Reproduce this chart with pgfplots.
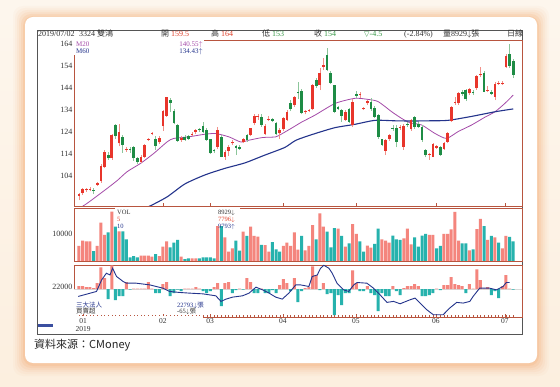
\documentclass[border=0pt]{standalone}
\usepackage{pgfplots}
\pgfplotsset{compat=1.18}
\usepackage{pgfplotstable}
\usepackage{fontspec}
\setmainfont{Liberation Serif}
\newfontfamily\cjk{Noto Sans CJK TC}
\newfontfamily\dejavu{DejaVu Sans}
\definecolor{upred}{HTML}{E8352B}
\definecolor{upwick}{HTML}{F29088}
\definecolor{dngreen}{HTML}{1E8C45}
\definecolor{dnwick}{HTML}{8CC69A}
\definecolor{volsal}{HTML}{F4857D}
\definecolor{volteal}{HTML}{26B2AD}
\definecolor{m20c}{HTML}{A44AA8}
\definecolor{m60c}{HTML}{24348C}
\definecolor{panelc}{HTML}{B8553F}
\definecolor{framec}{HTML}{555555}
\definecolor{hred}{HTML}{E0402A}
\definecolor{hgreen}{HTML}{3A9A4A}
\definecolor{txt}{HTML}{333333}
\definecolor{glow}{HTML}{F59A55}
\definecolor{cream}{HTML}{FCEFDF}
\definecolor{boxc}{HTML}{3B4FA0}

\pgfplotstableread{
i o h l c
0 95 96.5 93 95.8
1 96.4 98.5 95.5 97.9
2 97.5 98.8 96.8 98
3 97.6 99 97 98.3
5 100 101.5 99.5 100.8
6 101.7 109.5 101 108.5
7 108 116 107.5 115
9 112 123 111.5 122.6
11 118.8 127.5 117.5 124
13 115.8 117 115 116
17 110.5 113.5 110 112.8
18 112.8 118.5 112 118
19 120.5 121.5 120 120.8
20 123.2 124 122.5 123.7
22 119.3 122 118.5 121.4
23 126.7 134 124.5 133.5
24 131.3 140 131 139.8
28 120.2 122 119.5 121.5
31 122.5 124 122 123.2
32 124 125.5 123 124.8
38 117.3 126.5 116.5 125
40 112.8 116 111.5 115
41 115.5 118 113 117.3
42 118.8 120.5 118 119.3
45 119.5 121.5 119 121
47 122.6 126 122 125.7
48 128 132 127 131.3
49 130.7 132 129.5 131.2
51 123 127.5 122.5 126.7
52 129.5 131.5 129 129.8
55 123.5 126 121 125
56 125.2 131 124.5 130.2
57 129.5 134 129 133.3
59 136.3 140.5 135.5 139.8
62 133 134 132 133.3
63 133.5 134.5 133 133.8
64 134.3 146 133.8 145.4
66 145.4 153 143 151
67 153.6 157.5 152 154.3
73 129.5 134 129 133.2
75 127.2 139 126.5 137.8
77 140.8 142 139.5 141
78 134.3 135.5 134 135
79 137 138.5 136.5 138
84 115.4 121 113.5 120.4
85 120.8 123 120 122.6
88 125.8 127 125 126
89 117.3 127.5 116 126.7
91 125.2 130 124.5 129.5
96 113.8 114.5 111.5 114
97 112.8 119 112.5 118.4
98 116.8 118 116.5 117.5
100 116.5 119.5 116 118.8
101 119.6 124 119 123.4
102 129 136 128.5 135.5
103 137.2 140 136.5 137.8
104 137 142 136.5 141.6
107 141.6 144 141 143.4
109 143.8 150 143.3 149.5
110 149.8 153.5 149 150.3
112 142.6 145 142 142.8
114 139.8 146.5 138.5 146
115 145.8 147 145.5 146.3
116 145.8 147 145.5 146.3
117 153.4 159.5 153 158.5
}\upc

\pgfplotstableread{
i o h l c
4 97.6 98.5 96 97.2
8 113.7 115 111.5 112
10 127 127.5 121 122
12 121.6 122.5 114.5 118
14 116 117 114.5 115.8
15 117 117.5 111 112
16 112 112.5 109.5 110.3
21 120.7 122 116 117.6
25 138.5 139.5 133 137.3
26 133.7 134.5 127.5 128
27 127.2 127.5 119.5 120
29 121.8 122.5 120 120.5
30 122 122.5 120.5 121
33 125.2 126 124 124.8
34 126.7 128.5 123.5 124
35 125 126 120 120.4
36 120.7 121 114 114.3
37 115.8 116.5 114.5 115.2
39 121.8 122.5 112.5 112.8
43 117.5 118 113.5 116.8
44 117.3 118 116 116.5
46 122.6 123 119.5 120.4
50 131 132 126.5 127.2
53 129.8 130.5 128.5 129
54 128.2 128.5 122.5 123
58 137 138.5 133.5 134.3
60 142.2 146.5 139 141.6
61 142.8 143.5 132 132.8
65 147.6 148.5 144 144.9
68 159 162 151.5 152.2
69 150.7 151.5 146 146.4
70 145.4 145.5 132.5 133.2
71 135.2 136 134 134.6
72 134 134.5 128.5 131.5
74 134.3 135 128 128.7
76 141.2 142.5 139.5 140.5
80 137.8 139.5 133.5 134.3
81 135 136 130.5 131
82 131.7 132 121 121.8
83 120.7 121 117.5 118
86 125.8 127 124.5 125.4
87 125.7 127 117 119.6
90 127.8 128.5 126.5 127.2
92 130.7 131.5 125.5 126.4
93 127.5 128.5 126 126.5
94 126.4 127 119.5 120.4
95 116 116.5 112.5 113.5
99 117 117.5 113 113.5
105 142.3 143 140.5 141.3
106 143 143.5 138 138.8
108 142.3 143 141 141.6
111 150.7 151.5 142 142.3
113 142.4 143 141 141.5
118 159.5 164 153 154
119 156.4 157 148.5 150
}\dnc

\pgfplotstableread{
i v
0 89.2
2.3 91.7
5 95
7.8 98.5
10.5 102
13.2 106
16.9 109.8
20.5 114.3
24.2 119.6
26 121.1
30 121.8
34.5 123
37.5 123.3
41.1 121.8
44.3 119.5
46.6 120.3
50.3 121.5
53.9 121.8
55.7 123.3
58.5 126
61 128.5
64.7 131.7
70.2 137
75.6 139.3
79.3 138.8
82 137.8
85.7 133.2
88.4 130.2
90.7 128.2
93.9 127.2
97.5 123.4
100.7 121.1
103.9 124.2
107.6 127.2
111.2 130.7
114 133.2
116.7 137
119 140.8
}\mtwenty

\pgfplotstableread{
i v
18 89.5
19.6 90.5
24.2 94.6
29 100.4
34.5 104.5
40 107.5
45.5 110
50.9 113.5
56.4 117
59.5 120.3
64.7 123.3
70.2 126
75.6 127.5
81.1 129.3
86.6 129.1
91 129
96 129.1
101.1 129.3
107.6 131.1
114 133.2
119 134.5
}\msixty

\pgfplotstableread{
i v
0 5556
1 7530
2 7280
3 7280
5 5556
6 14200
7 9630
9 18270
11 11000
17 2000
18 2000
19 2000
20 1600
22 1850
23 5300
24 7280
28 1600
31 1000
32 1000
38 12960
40 8770
41 3460
42 4690
45 10860
47 12710
48 9260
49 9000
51 5900
52 3500
56 5600
57 6800
58 5556
59 10600
60 4200
62 3950
63 5556
64 13330
66 17650
67 12710
71 11980
73 5310
75 13700
76 10000
79 5680
80 4940
83 8030
84 7530
85 6790
89 8400
90 11980
91 6170
96 9630
97 9630
100 10000
101 10000
102 11730
103 18150
104 7530
107 3950
109 11850
110 15560
112 7780
114 8770
116 4690
117 9260
}\volup

\pgfplotstableread{
i v
4 3700
8 10600
10 12700
12 11000
13 8030
14 1360
15 1850
16 1360
21 2590
25 5060
26 6790
27 7780
29 740
30 1000
33 1000
34 1360
35 1360
36 1360
37 1000
39 12960
43 7530
44 3830
46 9260
50 6000
53 7000
54 4300
55 3500
61 9260
65 8030
68 10860
69 5060
70 12220
72 9260
74 6540
77 7280
78 3460
81 6300
82 11980
86 9380
87 8030
88 7780
92 8770
93 5310
94 9380
95 10000
98 4690
99 5560
105 6540
106 6540
108 4320
111 12960
113 9260
115 6790
118 8929
119 7280
}\voldn

\pgfplotstableread{
i v
0 3
1 3
2 2
3 2
4 1
5 6
6 22
7 11
9 24
13 7
15 0.5
16 0.5
17 0.5
18 0.5
19 7
20 0.5
23 5
24 7
29 0.5
30 0.5
31 0.5
32 2
33 0.5
37 2
38 6
40 6
41 7
44 0.5
46 11
47 7
50 0.5
55 4
56 10
57 6
59 11
62 1
63 2
64 23
65 14
67 6
75 19
76 6
79 3
86 3
89 1
90 3
91 3
92 5
93 3
98 0.5
100 4
101 4
102 12
103 5
104 4
105 3
107 5
108 0.5
109 20
110 9
111 0.5
112 2
116 3
117 14
118 0.5
}\instup

\pgfplotstableread{
i v
8 -10
10 -11
11 -7
12 -7
14 -0.5
21 -4
22 -4
25 -7
26 -4
27 -0.5
28 -2
34 -2
35 -4
36 -2
39 -17
42 -4
43 -1
45 -0.5
48 -4
49 -4
51 -4
52 -4
53 -1
54 -4
58 -2
60 -13
61 -2
66 -1
68 -5
69 -4
70 -26
71 -6
72 -16
73 -4
74 -4
77 -2
78 -2
80 -4
81 -6
82 -22
83 -4
84 -7
85 -7
87 -2
88 -6
94 -7
95 -7
96 -6
97 -4
99 -1
106 -4
113 -6
114 -2
115 -9
119 -0.5
}\instdn

\pgfplotstableread{
i v
-0.2 -7.3
4.8 -2.3
6.2 9.3
7.5 16
8.5 14.3
9.2 21
10.3 12.7
12.1 7.7
13 6
15.7 6
19.4 4.3
23 1
24.8 -2.3
27.5 -3.3
30.3 -4
33.9 -4.7
37.5 -6.7
38.9 -12.3
40.3 -10
42.1 -8
44.8 -6.7
46.6 -4
48.5 2
50.3 -0.7
52.1 -4
53.9 -8
55.7 -10
57.5 -4
59.4 4.3
60.7 4.3
63 2.7
63.9 12.7
65.3 14.3
66.2 21
67.1 24
68.5 21
69.4 16
70.7 6
72.5 -0.7
73.9 -2.3
75.3 4.3
76.2 6.7
78.9 6
80.7 1
82.5 -5.7
84.4 -13.3
86.2 -12.3
88 -14.7
90.7 -10.7
92.1 -9
93.5 -14
95.3 -20.7
97.1 -25.7
99.8 -25.7
101.6 -19
103.5 -13.3
105.3 -14
107.1 -12.3
108 -7.3
109.8 1
112.5 1
114.4 -0.7
116.2 2.7
117.1 6.7
118 6.7
}\instline

\pgfplotsset{
  panel/.style={
    scale only axis, width=448pt, xmin=-1.37, xmax=121.4,
    axis line style={draw=panelc, line width=0.7pt},
    tick pos=left,
    ytick style={draw=none},
    yticklabel style={font=\fontsize{8}{9}\selectfont, text=txt, inner sep=1.5pt},
    /pgf/number format/assume math mode=true,
    /pgf/number format/1000 sep={},
    scaled y ticks=false,
  },
  candle/.style 2 args={draw=none, mark=none, forget plot,
    error bars/y dir=plus, error bars/y explicit, error bars/error mark=none,
    error bars/error bar style={draw=#1, line width=#2}},
}

\begin{document}
\begin{tikzpicture}[x=1pt,y=1pt]
\useasboundingbox (0,0) rectangle (560,386);
\shade[top color=cream!55!white, bottom color=cream] (0,0) rectangle (560,386);
\foreach \d/\op in {12/0.04, 10/0.05, 8/0.07, 6/0.09, 4/0.12, 2/0.16}
  \fill[glow, opacity=\op, rounded corners=10pt] ({25-\d},{23-\d-1}) rectangle ({537+\d},{369+\d-1});
\fill[white, rounded corners=8pt] (25,23) rectangle (537,369);
\draw[framec, line width=0.8pt] (37,52) rectangle (522,356);

% price panel
\begin{axis}[panel, at={(74pt,180pt)}, anchor=south west, height=166pt,
  ymin=90.4, ymax=165.8, ytick={104,114,124,134,144,154,164},
  xtick={23,35.9,55.9,75.9,97.8,116.7}, xticklabels={},
  xtick style={draw=panelc, line width=0.6pt}, major tick length=3pt]
\addplot[m20c, line width=0.8pt, smooth, tension=0.4] table[x=i,y=v]{\mtwenty};
\addplot[m60c, line width=1.1pt, smooth, tension=0.4] table[x=i,y=v]{\msixty};
\addplot[candle={upwick}{0.6pt}]
  table[x=i, y=l, y error plus expr=\thisrow{h}-\thisrow{l}] {\upc};
\addplot[candle={dnwick}{0.6pt}]
  table[x=i, y=l, y error plus expr=\thisrow{h}-\thisrow{l}] {\dnc};
\addplot[candle={upred}{2.7pt}]
  table[x=i, y=o, y error plus expr={max(\thisrow{c}-\thisrow{o},0.35)}] {\upc};
\addplot[candle={dngreen}{2.7pt}]
  table[x=i, y=c, y error plus expr={max(\thisrow{o}-\thisrow{c},0.35)}] {\dnc};
\end{axis}

% volume panel
\begin{axis}[panel, at={(74pt,125pt)}, anchor=south west, height=53pt,
  ymin=0, ymax=19630, ytick={10000}, xtick=\empty]
\addplot[ybar, bar width=3pt, bar shift=0pt, fill=volsal, draw=none] table[x=i,y=v]{\volup};
\addplot[ybar, bar width=3pt, bar shift=0pt, fill=volteal, draw=none] table[x=i,y=v]{\voldn};
\end{axis}

% institutional panel
\begin{axis}[panel, at={(74pt,69pt)}, anchor=south west, height=52pt,
  ymin=-28, ymax=24.3, ytick={2}, yticklabels={22000},
  xtick={1.1,23,35.9,55.9,75.9,97.8,116.7},
  xticklabels={{01\\2019},02,03,04,05,06,07},
  xticklabel style={font=\fontsize{7.5}{8}\selectfont, text=txt, align=center, inner sep=1.5pt},
  minor xtick={0,1,...,119}, minor tick length=2pt, major tick length=3pt,
  xtick style={draw=panelc, line width=0.5pt},
  minor x tick style={draw=panelc, line width=0.4pt}]
\draw[black!15, line width=0.4pt] (axis cs:-1.37,0) -- (axis cs:121.4,0);
\addplot[ybar, bar width=3pt, bar shift=0pt, fill=volsal, draw=none] table[x=i,y=v]{\instup};
\addplot[ybar, bar width=3pt, bar shift=0pt, fill=volteal, draw=none] table[x=i,y=v]{\instdn};
\addplot[m60c, line width=0.9pt, sharp plot] table[x=i,y=v]{\instline};
\end{axis}

% overlays: header
\begin{scope}[every node/.style={anchor=base west, inner sep=0pt, font=\fontsize{8}{9}\selectfont, text=txt}]
\node at (38,349.5) {2019/07/02};
\node at (79,349.5) {3324 {\cjk 雙鴻}};
\node at (161,349.5) {{\cjk 開} \textcolor{hred}{159.5}};
\node at (211,349.5) {{\cjk 高} \textcolor{hred}{164}};
\node at (262,349.5) {{\cjk 低} \textcolor{hgreen}{153}};
\node at (314,349.5) {{\cjk 收} \textcolor{hgreen}{154}};
\node at (364,349.5) {\textcolor{hgreen}{{\dejavu\fontsize{7}{8}\selectfont ▽}-4.5}};
\node at (404,349.5) {(-2.84\%)};
\node at (443,349.5) {{\cjk 量}8929$\downarrow${\cjk 張}};
\node at (507,349.5) {{\cjk 日線}};
\end{scope}

% price labels
\fill[white] (73,345.2) rectangle (204,346.8);
\fill[white] (73.3,331) rectangle (74.7,347);
\begin{scope}[every node/.style={inner sep=0pt, font=\fontsize{7}{8}\selectfont}]
\node[anchor=base west, text=m20c] at (76,339.5) {M20};
\node[anchor=base west, text=m60c] at (76,332.5) {M60};
\node[anchor=base east, text=m20c] at (203,339.5) {140.55$\uparrow$};
\node[anchor=base east, text=m60c] at (203,332.5) {134.43$\uparrow$};
\end{scope}

% volume labels
\fill[white] (115,177.2) rectangle (240,178.8);
\begin{scope}[every node/.style={inner sep=0pt, anchor=base west, font=\fontsize{6.5}{7}\selectfont}]
\node[text=txt] at (117,171.5) {VOL};
\node[text=hred] at (117,164.5) {5};
\node[text=m60c] at (117,157.5) {10};
\node[text=txt] at (218,171.5) {8929$\downarrow$};
\node[text=hred] at (218,164.5) {7796$\downarrow$};
\node[text=m60c] at (218,157.5) {9793$\uparrow$};
\end{scope}

% institutional labels
\fill[white] (73.3,67.5) rectangle (74.7,96);
\fill[white] (73,68.3) rectangle (203,69.6);
\begin{scope}[every node/.style={inner sep=0pt, anchor=base west, font=\fontsize{6.5}{7}\selectfont}]
\node[text=m60c] at (76,78.5) {{\cjk 三大法人}};
\node[text=txt] at (76,72.5) {{\cjk 買賣超}};
\node[text=m60c] at (177,78.5) {22793$\downarrow${\cjk 張}};
\node[text=txt] at (177,72.5) {-65$\downarrow${\cjk 張}};
\end{scope}

\fill[boxc] (37.5,59) rectangle (53,62.5);
\node[anchor=west, inner sep=0pt, font=\fontsize{11}{12}\selectfont\cjk, text=black!85] at (34,41) {資料來源：CMoney};
\end{tikzpicture}
\end{document}
